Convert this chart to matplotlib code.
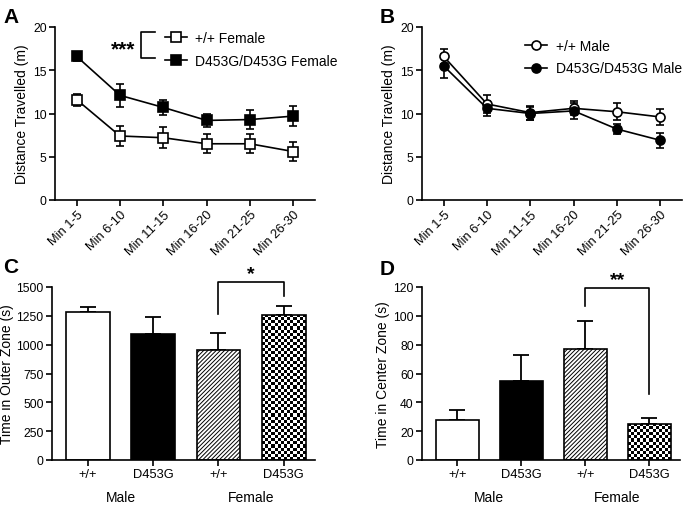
import numpy as np
import matplotlib
matplotlib.use("Agg")
import matplotlib.pyplot as plt

plt.rcParams["font.family"] = ["Liberation Sans", "DejaVu Sans"]
plt.rcParams["axes.linewidth"] = 1.2
plt.rcParams["hatch.linewidth"] = 0.7

bins = ["Min 1-5", "Min 6-10", "Min 11-15", "Min 16-20", "Min 21-25", "Min 26-30"]

# panel A - females
wt_female = [11.6, 7.4, 7.2, 6.5, 6.5, 5.6]
wt_female_sem = [0.7, 1.1, 1.2, 1.1, 1.1, 1.1]
mut_female = [16.6, 12.1, 10.7, 9.2, 9.3, 9.7]
mut_female_sem = [0.5, 1.3, 0.9, 0.8, 1.1, 1.2]

# panel B - males
wt_male = [16.6, 11.1, 10.1, 10.6, 10.2, 9.6]
wt_male_sem = [0.9, 1.0, 0.8, 0.8, 1.0, 0.9]
mut_male = [15.5, 10.6, 10.0, 10.3, 8.2, 6.9]
mut_male_sem = [1.4, 0.9, 0.7, 0.9, 0.6, 0.9]

# panels C and D
genotypes = ["+/+", "D453G", "+/+", "D453G"]
sexes = ["Male", "Female"]
outer_zone = [1280, 1095, 952, 1258]
outer_zone_sem = [45, 148, 150, 75]
center_zone = [28, 55, 77, 25]
center_zone_sem = [6.5, 17.5, 19.5, 4.2]

# significance brackets: (top, left leg end, right leg end)
outer_bracket = (1545, 1270, 1420)
center_bracket = (119, 107, 46)

W, H = 685, 506
fig = plt.figure(figsize=(W / 100, H / 100), dpi=100)


def px_axes(left, top, right, bottom):
    return fig.add_axes([left / W, 1 - bottom / H, (right - left) / W, (bottom - top) / H])


def style(ax):
    for s in ["top", "right"]:
        ax.spines[s].set_visible(False)
    ax.tick_params(direction="out", length=4, width=1.2, pad=2)
    ax.tick_params(axis="y", labelsize=8.7)
    ax.tick_params(axis="x", labelsize=9.3)


def time_panel(ax, series, ylabel):
    x = np.arange(len(bins))
    handles = []
    for vals, sem, marker, face, label in series:
        ax.errorbar(x, vals, yerr=sem, fmt="none", ecolor="black",
                    elinewidth=1.2, capsize=3, capthick=1.2, zorder=2)
        h, = ax.plot(x, vals, color="black", lw=1.2, marker=marker, ms=6.5,
                     mfc=face, mec="black", mew=1.2, label=label, zorder=3)
        handles.append(h)
    ax.set_xlim(-0.5, 5.5)
    ax.set_ylim(0, 20)
    ax.set_yticks([0, 5, 10, 15, 20])
    ax.set_xticks(x)
    ax.set_xticklabels(bins, rotation=45, ha="right", rotation_mode="anchor")
    ax.set_ylabel(ylabel, fontsize=10, labelpad=3)
    style(ax)
    return handles


def checker(ax, bar, cell=3.1):
    x0, y0 = bar.get_x(), bar.get_y()
    x1, y1 = x0 + bar.get_width(), y0 + bar.get_height()
    p0 = ax.transData.transform((x0, y0))
    p1 = ax.transData.transform((x1, y1))
    nx = max(1, int(round(abs(p1[0] - p0[0]) / cell)))
    ny = max(1, int(round(abs(p1[1] - p0[1]) / cell)))
    board = np.add.outer(np.arange(ny), np.arange(nx)) % 2
    im = ax.imshow(board, cmap="gray_r", extent=(x0, x1, y0, y1), aspect="auto",
                   interpolation="nearest", origin="lower", zorder=1.5)
    im.set_clip_path(bar)


def bar_panel(ax, vals, sem, ylim, yticks, ylabel, bracket, stars):
    x = np.arange(len(vals))
    xlim = (-0.55, 3.48)
    faces = ["white", "black", "white", "none"]
    bars = ax.bar(x, vals, width=0.67, color=faces, edgecolor="black",
                  linewidth=1.2, zorder=2)
    bars[2].set_hatch("////////")
    ax.errorbar(x, vals, yerr=[np.zeros(len(sem)), sem], fmt="none",
                ecolor="black", elinewidth=1.3, capsize=6, capthick=1.3, zorder=1)
    ax.set_ylim(*ylim)
    ax.set_xlim(*xlim)
    checker(ax, bars[3])
    ax.set_ylim(*ylim)
    ax.set_xlim(*xlim)
    ax.set_yticks(yticks)
    ax.set_xticks(x)
    ax.set_xticklabels(genotypes)
    ax.set_ylabel(ylabel, fontsize=10, labelpad=2)
    for i, s in enumerate(sexes):
        ax.text(2 * i + 0.5, -0.215, s, transform=ax.get_xaxis_transform(),
                ha="center", va="center", fontsize=10)
    top, left_end, right_end = bracket
    ax.plot([2, 2, 3, 3], [left_end, top, top, right_end], color="black",
            lw=1.2, clip_on=False)
    ax.text(2.5, top, stars, ha="center", va="bottom", fontsize=14,
            fontweight="bold")
    style(ax)


# A
axA = px_axes(55, 28, 315, 201)
hA = time_panel(axA, [(wt_female, wt_female_sem, "s", "white", "+/+ Female"),
                      (mut_female, mut_female_sem, "s", "black", "D453G/D453G Female")],
                "Distance Travelled (m)")
axA.legend(handles=hA, loc="upper left", bbox_to_anchor=(0.395, 1.015), frameon=False,
           fontsize=10, handlelength=1.6, handletextpad=0.6, labelspacing=0.6,
           borderpad=0)
axA.plot([0.385, 0.331, 0.331, 0.385], [0.971, 0.971, 0.821, 0.821],
         transform=axA.transAxes, color="black", lw=1.2, clip_on=False)
axA.text(0.31, 0.875, "***", transform=axA.transAxes, ha="right", va="center",
         fontsize=15, fontweight="bold")

# B
axB = px_axes(422, 28, 682, 201)
hB = time_panel(axB, [(wt_male, wt_male_sem, "o", "white", "+/+ Male"),
                      (mut_male, mut_male_sem, "o", "black", "D453G/D453G Male")],
                "Distance Travelled (m)")
axB.legend(handles=hB, loc="upper left", bbox_to_anchor=(0.37, 0.97), frameon=False,
           fontsize=10, handlelength=1.6, handletextpad=0.6, labelspacing=0.6,
           borderpad=0)

# C
axC = px_axes(52, 288, 315, 461)
bar_panel(axC, outer_zone, outer_zone_sem, (0, 1500), range(0, 1501, 250),
          "Time in Outer Zone (s)", outer_bracket, "*")

# D
axD = px_axes(422, 288, 680, 461)
bar_panel(axD, center_zone, center_zone_sem, (0, 120), range(0, 121, 20),
          "Time in Center Zone (s)", center_bracket, "**")

for lab, x, y in [("A", 3, 8), ("B", 380, 8), ("C", 3, 258), ("D", 380, 260)]:
    fig.text(x / W, 1 - y / H, lab, fontsize=15, fontweight="bold", va="top", ha="left")

fig.savefig("out.png", dpi=100)
